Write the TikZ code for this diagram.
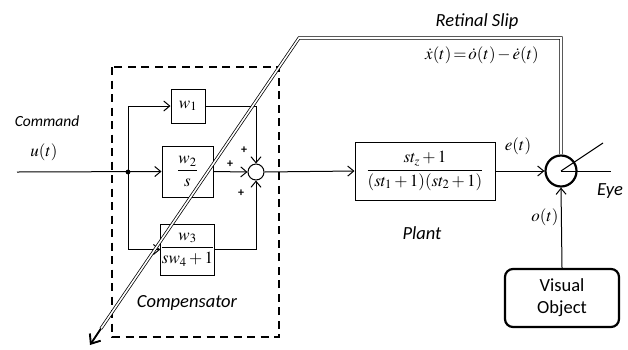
\documentclass[tikz,border=0pt]{standalone}
\usepackage{amsmath}
\usepackage{mathptmx}
\usepackage[no-math]{fontspec}
\setmainfont{Carlito}
\usetikzlibrary{arrows.meta}
\begin{document}
\begin{tikzpicture}[x=1pt,y=-1pt,
  thinline/.style={line width=1pt},
  arr/.style={thinline,-{Straight Barb[length=6pt,width=10pt,line width=1pt]}},
  blk/.style={draw,thinline,inner sep=0pt},
  lbl/.style={font=\fontsize{18.5}{20}\selectfont\itshape},
  mth/.style={font=\fontsize{17}{20}\selectfont},
  plus/.style={font=\fontsize{12}{12}\selectfont\bfseries}
]
\useasboundingbox (0,0) rectangle (628,349);
% compensator frame
\draw[line width=2.7pt, dash pattern=on 8pt off 5.5pt] (112,67) rectangle (279,337);
% blocks
\node[blk,minimum width=34pt,minimum height=34pt] (w1) at (188,106) {\fontsize{17}{20}\selectfont$w_1$};
\node[blk,minimum width=51pt,minimum height=51pt] (w2) at (187.5,171.5) {\fontsize{17}{20}\selectfont$\dfrac{w_2}{s}$};
\node[blk,minimum width=51pt,minimum height=51pt] (w3) at (187.5,249.5) {\fontsize{17}{20}\selectfont$\dfrac{w_3}{sw_4+1}$};
\node[circle,draw,thinline,minimum size=16pt,inner sep=0pt] (sum) at (256,172) {};
\node[blk,minimum width=140pt,minimum height=58pt] (plant) at (425,171) {\fontsize{17}{20}\selectfont$\dfrac{st_z+1}{(st_1+1)(st_2+1)}$};
\node[circle,draw,line width=2.2pt,minimum size=31pt,inner sep=0pt] (eye) at (561,171) {};
\node[draw,line width=2.2pt,rounded corners=8pt,minimum width=114pt,minimum height=58pt,align=center,font=\fontsize{18.5}{22}\selectfont] (vis) at (562,298) {Visual\\Object};
% coordinates
\coordinate (in) at (17,172);
\coordinate (jn) at (128,172);
\coordinate (corner) at (299,38);
\coordinate (cornerR) at (561,38);
\coordinate (slipend) at (90,345);
\coordinate (slipbase) at (101,328.5);
\coordinate (eyeA) at (611,171);
\coordinate (eyeB) at (603,143);
% connectors
\draw[arr] (in) -- (w2.west);
\fill (jn) circle (2.4pt);
\draw[arr] (jn) |- (w1.west);
\draw[arr] (jn) |- (w3.west);
\draw[arr] (w1.east) -| (sum.north);
\draw[arr] (w2.east) -- (sum.west);
\draw[arr] (w3.east) -| (sum.south);
\draw[arr] (sum.east) -- (plant.west);
\draw[arr] (plant.east) -- (eye.west);
\draw[arr] (vis.north) -- (eye.south);
\draw[thinline] (eye.center) -- (eyeA);
\draw[thinline] (eye.center) -- (eyeB);
% retinal slip
\draw[double,line width=0.75pt,double distance=1.6pt] (eye.north) -- (cornerR) -- (corner) -- (slipbase);
\draw[line width=1.9pt,-{Straight Barb[length=8pt,width=13pt,line width=1.9pt]}] (slipbase) -- (slipend);
% labels
\node[font=\fontsize{15.5}{18}\selectfont\itshape] (cmd) at (47,121) {Command};
\node[mth] (u) at (44,152) {$u(t)$};
\node[lbl] (comp) at (187,303) {Compensator};
\node[lbl] (plantlbl) at (422,233) {Plant};
\node[mth] (et) at (518,146) {$e(t)$};
\node[lbl] (eyelbl) at (610,191) {Eye};
\node[mth] (ot) at (545,217) {$o(t)$};
\node[lbl] (slip) at (477,22) {Retinal Slip};
\node[mth] (eq) at (482,55) {$\dot x(t)\mkern2mu{=}\mkern2mu\dot o(t)\mkern2mu{-}\mkern2mu\dot e(t)$};
\node[plus] (p1) at (244,150) {+};
\node[plus] (p2) at (230,164) {+};
\node[plus] (p3) at (241,193) {+};
\end{tikzpicture}
\end{document}
